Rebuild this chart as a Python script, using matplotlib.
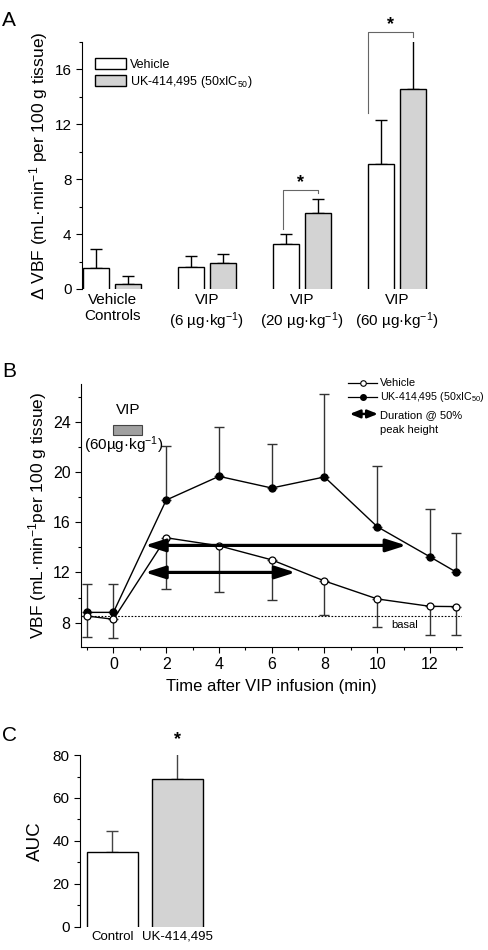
import numpy as np
import matplotlib
matplotlib.use("Agg")
import matplotlib.pyplot as plt
from matplotlib.patches import Rectangle, Patch
from matplotlib.ticker import MultipleLocator

plt.rcParams['font.family'] = ['Liberation Sans', 'DejaVu Sans']
plt.rcParams['mathtext.fontset'] = 'custom'
plt.rcParams['mathtext.rm'] = 'Liberation Sans'
plt.rcParams['mathtext.it'] = 'Liberation Sans:italic'
plt.rcParams['axes.linewidth'] = 0.8

# ---- panel A data ----
groups_a = ["Vehicle\nControls", "VIP\n(6 µg·kg$^{-1}$)",
            "VIP\n(20 µg·kg$^{-1}$)", "VIP\n(60 µg·kg$^{-1}$)"]
vehicle_a = [1.53, 1.63, 3.31, 9.12]
vehicle_a_err = [1.41, 0.80, 0.73, 3.19]
uk_a = [0.34, 1.92, 5.52, 14.60]
uk_a_err = [0.58, 0.61, 1.07, 3.53]

# ---- panel B data ----
time_b = [-1, 0, 2, 4, 6, 8, 10, 12, 13]
vehicle_b = [8.53, 8.27, 14.76, 14.12, 13.00, 11.32, 9.89, 9.30, 9.28]
vehicle_b_err = [1.65, 1.52, 4.07, 3.70, 3.20, 2.73, 2.26, 2.29, 2.27]
uk_b = [8.82, 8.82, 17.76, 19.65, 18.72, 19.60, 15.64, 13.24, 12.02]
uk_b_err = [2.24, 2.29, 4.31, 3.94, 3.54, 6.62, 4.81, 3.78, 3.11]
basal = 8.53
# duration @ 50% peak height arrows: (start, end, level)
dur_uk = (1.2, 11.1, 14.15)
dur_vehicle = (1.2, 6.9, 12.0)

# ---- panel C data ----
labels_c = ["Control", "UK-414,495"]
auc = [34.9, 68.8]
auc_err = [9.7, 14.9]

fig = plt.figure(figsize=(4.89, 9.5), dpi=100)

# ================= A =================
axA = fig.add_axes([0.1677, 0.6958, 0.7117, 0.26])
xa = np.arange(len(groups_a))
off, bw = 0.168, 0.274
va = np.array(vehicle_a)
ua = np.array(uk_a)
# bars start below the axis so their bottom edge is hidden, as in the original
b1 = axA.bar(xa - off, va + 1, bw, bottom=-1, color='white', edgecolor='black', lw=1.0, zorder=2)
b2 = axA.bar(xa + off, ua + 1, bw, bottom=-1, color='#d3d3d3', edgecolor='black', lw=1.0, zorder=2)
axA.errorbar(xa - off, va, yerr=[np.zeros(4), vehicle_a_err], fmt='none',
             ecolor='black', elinewidth=1.0, capsize=4, capthick=1.0, zorder=1)
axA.errorbar(xa + off, ua, yerr=[np.zeros(4), uk_a_err], fmt='none',
             ecolor='black', elinewidth=1.0, capsize=4, capthick=1.0, zorder=1)

# significance brackets
for (xl, xr, ylo, ytop, yr, ys) in [(2 - off - 0.03, 2 + off, 4.4, 7.25, 7.0, 7.75),
                                    (3 - off - 0.14, 3 + off, 12.8, 18.7, 18.4, 19.25)]:
    axA.plot([xl, xl, xr, xr], [ylo, ytop, ytop, yr], color='#666', lw=0.8, clip_on=False)
    axA.text((xl + xr) / 2, ys, '*', ha='center', va='center', fontsize=13, fontweight='bold')

axA.set_xlim(-0.316, 3.347)
axA.set_ylim(0, 18)
axA.set_xticks(xa)
axA.set_xticklabels(groups_a, fontsize=11)
axA.tick_params(axis='x', length=0, pad=3)
axA.yaxis.set_major_locator(MultipleLocator(4))
axA.yaxis.set_minor_locator(MultipleLocator(2))
axA.tick_params(axis='y', labelsize=11, direction='out', length=4, width=0.8)
axA.tick_params(axis='y', which='minor', length=2.5, width=0.8)
for s in ['top', 'right', 'bottom']:
    axA.spines[s].set_visible(False)
axA.set_ylabel('Δ VBF (mL·min$^{-1}$ per 100 g tissue)', fontsize=12.5, labelpad=3)
leg_handles = [Patch(facecolor='white', edgecolor='black', lw=1.0),
               Patch(facecolor='#d3d3d3', edgecolor='black', lw=1.0)]
axA.legend(leg_handles, ['Vehicle', 'UK-414,495 (50xIC$_{50}$)'], loc='upper left',
           bbox_to_anchor=(0.037, 0.935), frameon=False, fontsize=9,
           handlelength=2.5, handleheight=0.95, handletextpad=0.3,
           labelspacing=0.25, borderpad=0, borderaxespad=0)
fig.text(0.005, 0.978, 'A', fontsize=15, va='center')

# ================= B =================
axB = fig.add_axes([0.1656, 0.3193, 0.7785, 0.2765])
axB.axhline(basal, xmin=0, xmax=1, color='black', lw=0.8, ls=(0, (1.5, 1.5)), zorder=1)
axB.errorbar(time_b, uk_b, yerr=[np.zeros(len(uk_b)), uk_b_err], fmt='none',
             ecolor='#333', elinewidth=1.0, capsize=3.5, capthick=1.0, zorder=2)
axB.errorbar(time_b, vehicle_b, yerr=[vehicle_b_err, np.zeros(len(vehicle_b))], fmt='none',
             ecolor='#333', elinewidth=1.0, capsize=3.5, capthick=1.0, zorder=2)
axB.plot(time_b, uk_b, '-o', color='black', lw=1.0, ms=5, mfc='black', zorder=4)
axB.plot(time_b, vehicle_b, '-o', color='black', lw=1.0, ms=5, mfc='white', mew=0.9, zorder=4)

for (x0, x1, lev) in [dur_uk, dur_vehicle]:
    axB.annotate('', xy=(x1, lev), xytext=(x0, lev),
                 arrowprops=dict(arrowstyle='<|-|>,head_length=1.1,head_width=0.35',
                                 mutation_scale=11, lw=2.3, color='black',
                                 shrinkA=0, shrinkB=0), zorder=5)

axB.add_patch(Rectangle((0, 22.95), 1.1, 0.8, facecolor='#a0a0a0', edgecolor='#444', lw=0.8))
axB.text(0.57, 24.9, 'VIP', ha='center', va='center', fontsize=11)
axB.text(0.39, 22.15, '(60µg·kg$^{-1}$)', ha='center', va='center', fontsize=11)
axB.text(11.05, 7.85, 'basal', ha='center', va='center', fontsize=8)

axB.set_xlim(-1.23, 13.2)
axB.set_ylim(6.09, 27.0)
axB.xaxis.set_major_locator(MultipleLocator(2))
axB.xaxis.set_minor_locator(MultipleLocator(1))
axB.yaxis.set_major_locator(MultipleLocator(4))
axB.yaxis.set_minor_locator(MultipleLocator(2))
axB.tick_params(labelsize=11.5, direction='out', length=4, width=0.8)
axB.tick_params(which='minor', length=2.5, width=0.8)
for s in ['top', 'right']:
    axB.spines[s].set_visible(False)
axB.set_ylabel('VBF (mL·min$^{-1}$per 100 g tissue)', fontsize=12.5, labelpad=3)
axB.set_xlabel('Time after VIP infusion (min)', fontsize=12, labelpad=5)

# legend drawn by hand
tr = axB.transAxes
axB.plot([0.701, 0.778], [1.005, 1.005], color='black', lw=0.9, transform=tr, clip_on=False)
axB.plot([0.740], [1.005], 'o', ms=4, mfc='white', mec='black', mew=0.8, transform=tr, clip_on=False)
axB.plot([0.701, 0.778], [0.952, 0.952], color='black', lw=0.9, transform=tr, clip_on=False)
axB.plot([0.740], [0.952], 'o', ms=4, mfc='black', mec='black', transform=tr, clip_on=False)
axB.annotate('', xy=(0.78, 0.886), xytext=(0.706, 0.886), xycoords=tr, textcoords=tr,
             arrowprops=dict(arrowstyle='<|-|>,head_length=1.0,head_width=0.4',
                             mutation_scale=6, lw=1.8, color='black', shrinkA=0, shrinkB=0))
axB.text(0.785, 1.005, 'Vehicle', transform=tr, va='center', fontsize=8)
axB.text(0.785, 0.952, 'UK-414,495 (50xIC$_{50}$)', transform=tr, va='center', fontsize=7.7)
axB.text(0.785, 0.880, 'Duration @ 50%', transform=tr, va='center', fontsize=8)
axB.text(0.785, 0.823, 'peak height', transform=tr, va='center', fontsize=8)
fig.text(0.005, 0.609, 'B', fontsize=15, va='center')

# ================= C =================
axC = fig.add_axes([0.1636, 0.0245, 0.276, 0.1807])
xc = np.arange(len(labels_c))
auc_arr = np.array(auc)
axC.bar(xc, auc_arr + 5, 0.785, bottom=-5, color=['white', '#d3d3d3'], edgecolor='black', lw=1.0, zorder=2)
axC.errorbar(xc, auc_arr, yerr=[np.zeros(2), auc_err], fmt='none', ecolor='#444',
             elinewidth=1.0, capsize=4, capthick=1.0, zorder=1)
axC.text(1, 87.0, '*', ha='center', va='center', fontsize=13, fontweight='bold')
axC.set_xlim(-0.5, 1.577)
axC.set_ylim(0, 80)
axC.set_xticks(xc)
axC.set_xticklabels(labels_c, fontsize=9.5)
axC.tick_params(axis='x', length=0, pad=3)
axC.yaxis.set_major_locator(MultipleLocator(20))
axC.yaxis.set_minor_locator(MultipleLocator(10))
axC.tick_params(axis='y', labelsize=11, direction='out', length=4, width=0.8)
axC.tick_params(axis='y', which='minor', length=2.5, width=0.8)
for s in ['top', 'right', 'bottom']:
    axC.spines[s].set_visible(False)
axC.set_ylabel('AUC', fontsize=13.5, labelpad=6)
fig.text(0.005, 0.226, 'C', fontsize=15, va='center')

fig.savefig('out.png', dpi=100)
